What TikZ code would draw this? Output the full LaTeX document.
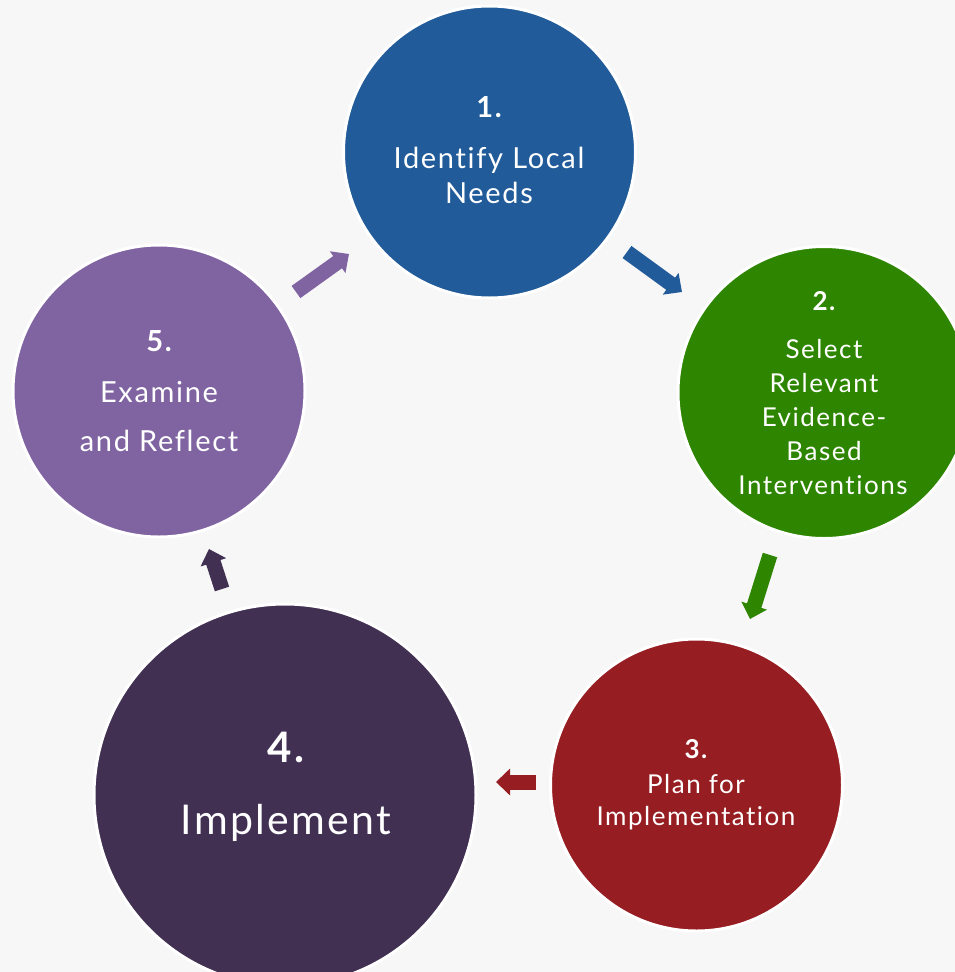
\documentclass[tikz,border=0pt]{standalone}
\usepackage{fontspec}
\setmainfont{Lato}[LetterSpace=5.8, Ligatures=NoCommon]
\usetikzlibrary{arrows.meta}
\definecolor{bg}{HTML}{F7F7F7}
\definecolor{cA}{HTML}{215B99}
\definecolor{cB}{HTML}{2E8600}
\definecolor{cC}{HTML}{961E22}
\definecolor{cD}{HTML}{413052}
\definecolor{cE}{HTML}{8064A2}
\begin{document}
\begin{tikzpicture}[x=1pt,y=-1pt,
  stage/.style={circle, fill=#1, draw=white, line width=3pt, minimum size=292pt, inner sep=0pt},
  txt/.style={text=white, anchor=base, inner sep=0pt, font=\fontsize{#1}{32}\selectfont},
  txt/.default=26,
  num/.style={text=white, anchor=base, inner sep=0pt, font=\fontsize{#1}{32}\selectfont\bfseries},
  num/.default=26,
  flow/.style={draw=#1, line width=15pt, -{Triangle[width=26pt,length=14pt]}},
]
\useasboundingbox (0,0) rectangle (955,972);
\fill[bg] (0,0) rectangle (955,972);
\begin{scope}
\clip (0,0) rectangle (955,972);
\node[stage=cA] (s1) at (489.5,152) {};
\node[stage=cB] (s2) at (824,392.5) {};
\node[stage=cC] (s3) at (696.5,785) {};
\node[stage=cD, minimum size=382pt] (s4) at (285,795) {};
\node[stage=cE] (s5) at (159,391) {};
\end{scope}

% texts
\node[num=29] (n1) at (489,117) {1.};
\node[txt=29] (a1) at (489,168) {Identify Local};
\node[txt=29] (b1) at (489,203) {Needs};

\node[num] (n2) at (824,310) {2.};
\node[txt] (a2) at (824,358) {Select};
\node[txt] (b2) at (824,392) {Relevant};
\node[txt] (c2) at (824,426) {Evidence-};
\node[txt] (d2) at (824,460) {Based};
\node[txt] (e2) at (823,494) {Interventions};

\node[num] (n3) at (696,758) {3.};
\node[txt] (a3) at (696,793) {Plan for};
\node[txt] (b3) at (696,825) {Implementation};

\node[num=42] (n4) at (286,762) {4.};
\node[txt=41] (a4) at (286,834) {Implement};

\node[num=29] (n5) at (159,351) {5.};
\node[txt=29] (a5) at (159,402) {Examine};
\node[txt=29] (b5) at (159,451) {and Reflect};

% arrows
\coordinate (p1) at (627,252); \coordinate (q1) at (682,292);
\coordinate (p2) at (770,555); \coordinate (q2) at (750,619);
\coordinate (p3) at (536,782); \coordinate (q3) at (496,782);
\coordinate (p4) at (222,589); \coordinate (q4) at (209,549);
\coordinate (p5) at (296,292); \coordinate (q5) at (349,254);
\draw[flow=cA] (p1) -- (q1);
\draw[flow=cB] (p2) -- (q2);
\draw[flow=cC] (p3) -- (q3);
\draw[flow=cD] (p4) -- (q4);
\draw[flow=cE] (p5) -- (q5);
\end{tikzpicture}
\end{document}
